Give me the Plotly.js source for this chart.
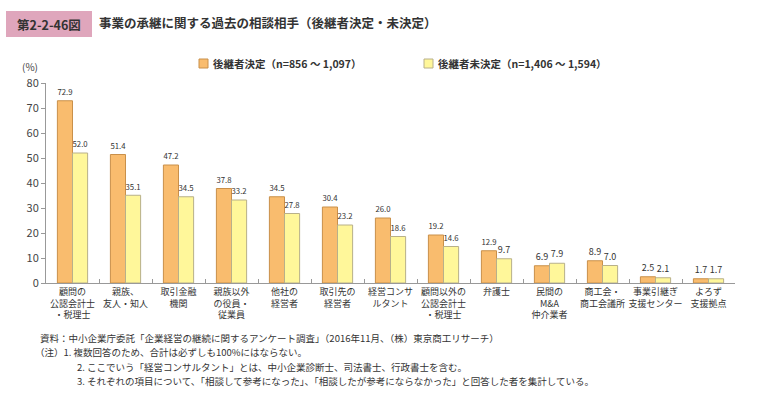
<!DOCTYPE html>
<html>
<head>
<meta charset="utf-8">
<script src="https://cdn.plot.ly/plotly-3.0.1.min.js"></script>
<style>
html,body{margin:0;padding:0;background:#fff;}
#chart{width:760px;height:396px;}
</style>
</head>
<body>
<div id="chart"></div>
<script>
const categories = [
  "顧問の<br>公認会計士<br>・税理士",
  "親族、<br>友人・知人",
  "取引金融<br>機関",
  "親族以外<br>の役員・<br>従業員",
  "他社の<br>経営者",
  "取引先の<br>経営者",
  "経営コンサ<br>ルタント",
  "顧問以外の<br>公認会計士<br>・税理士",
  "弁護士",
  "民間の<br>M&A<br>仲介業者",
  "商工会・<br>商工会議所",
  "事業引継ぎ<br>支援センター",
  "よろず<br>支援拠点"
];
const decided = [72.9, 51.4, 47.2, 37.8, 34.5, 30.4, 26.0, 19.2, 12.9, 6.9, 8.9, 2.5, 1.7];
const undecided = [52.0, 35.1, 34.5, 33.2, 27.8, 23.2, 18.6, 14.6, 9.7, 7.9, 7.0, 2.1, 1.7];
const seriesNames = ["後継者決定（n=856 ～ 1,097）", "後継者未決定（n=1,406 ～ 1,594）"];
const seriesColors = ["#F9BC6E", "#FFF79A"];
const seriesLines = ["#C9904A", "#B8B08A"];
const yTicks = [0, 10, 20, 30, 40, 50, 60, 70, 80];

const FONT = "'Noto Sans CJK JP', 'Noto Sans', sans-serif";
const PW = 689, PH = 200, L = 46, T = 83;
const px = v => (v - L) / PW;
const py = v => 1 + (T - v) / PH;

const traces = [decided, undecided].map((vals, i) => ({
  type: "bar", x: categories, y: vals, name: seriesNames[i],
  marker: {color: seriesColors[i], line: {color: seriesLines[i], width: 1}},
  texttemplate: "%{y:.1f}", textposition: "outside", cliponaxis: false,
  textfont: {size: 9, color: "#333", family: FONT}
}));

const legendX = [199, 424];
const shapes = [
  {type: "rect", xref: "paper", yref: "paper",
   x0: px(6), x1: px(92), y0: py(37), y1: py(11),
   fillcolor: "#DFA6BC", line: {width: 0}, layer: "above"}
];
const annotations = [
  {xref: "paper", yref: "paper", x: px(49), y: py(24), xanchor: "center", yanchor: "middle",
   text: "<b>第2-2-46図</b>", showarrow: false, font: {size: 12.5, color: "#333", family: FONT}},
  {xref: "paper", yref: "paper", x: px(97), y: py(23), xanchor: "left", yanchor: "middle",
   text: "<b>事業の承継に関する過去の相談相手（後継者決定・未決定）</b>", showarrow: false,
   font: {size: 12.5, color: "#333", family: FONT}},
  {xref: "paper", yref: "paper", x: px(30), y: py(67), xanchor: "center", yanchor: "middle",
   text: "(%)", showarrow: false, font: {size: 10, color: "#444", family: FONT}}
];
seriesNames.forEach((nm, i) => {
  shapes.push({type: "rect", xref: "paper", yref: "paper",
    x0: px(legendX[i]), x1: px(legendX[i] + 9), y0: py(68), y1: py(59),
    fillcolor: seriesColors[i], line: {color: seriesLines[i], width: 1}, layer: "above"});
  annotations.push({xref: "paper", yref: "paper", x: px(legendX[i] + 12), y: py(63.5),
    xanchor: "left", yanchor: "middle", text: "<b>" + nm + "</b>", showarrow: false,
    font: {size: 10.5, color: "#333", family: FONT}});
});
const notes = [
  ["資料：中小企業庁委託「企業経営の継続に関するアンケート調査」（2016年11月、（株）東京商工リサーチ）", 38, 338],
  ["（注）1. 複数回答のため、合計は必ずしも100%にはならない。", 33, 352],
  ["2. ここでいう「経営コンサルタント」とは、中小企業診断士、司法書士、行政書士を含む。", 75, 367],
  ["3. それぞれの項目について、「相談して参考になった」、「相談したが参考にならなかった」と回答した者を集計している。", 75, 381]
];
notes.forEach(n => annotations.push({xref: "paper", yref: "paper", x: px(n[1]), y: py(n[2]),
  xanchor: "left", yanchor: "middle", text: n[0], showarrow: false,
  font: {size: 9.5, color: "#333", family: FONT}}));

const layout = {
  width: 760, height: 396,
  margin: {l: L, r: 760 - L - PW, t: T, b: 396 - T - PH},
  paper_bgcolor: "#fff", plot_bgcolor: "#fff",
  font: {family: FONT, color: "#333"},
  barmode: "group", bargap: 0.43, bargroupgap: 0,
  showlegend: false,
  xaxis: {
    showline: true, linecolor: "#999", linewidth: 1,
    ticks: "inside", tickson: "boundaries", ticklen: 4, tickcolor: "#999",
    tickfont: {size: 9, color: "#333", family: FONT}, tickangle: 0,
    showgrid: false, zeroline: false
  },
  yaxis: {
    range: [0, 80], tickvals: yTicks, ticktext: yTicks.map(String),
    showline: true, linecolor: "#999", linewidth: 1,
    ticks: "outside", ticklen: 4, tickcolor: "#999",
    tickfont: {size: 11, color: "#444", family: FONT},
    showgrid: false, zeroline: false
  },
  shapes: shapes,
  annotations: annotations
};

Plotly.newPlot("chart", traces, layout, {displayModeBar: false, staticPlot: true});
</script>
</body>
</html>
